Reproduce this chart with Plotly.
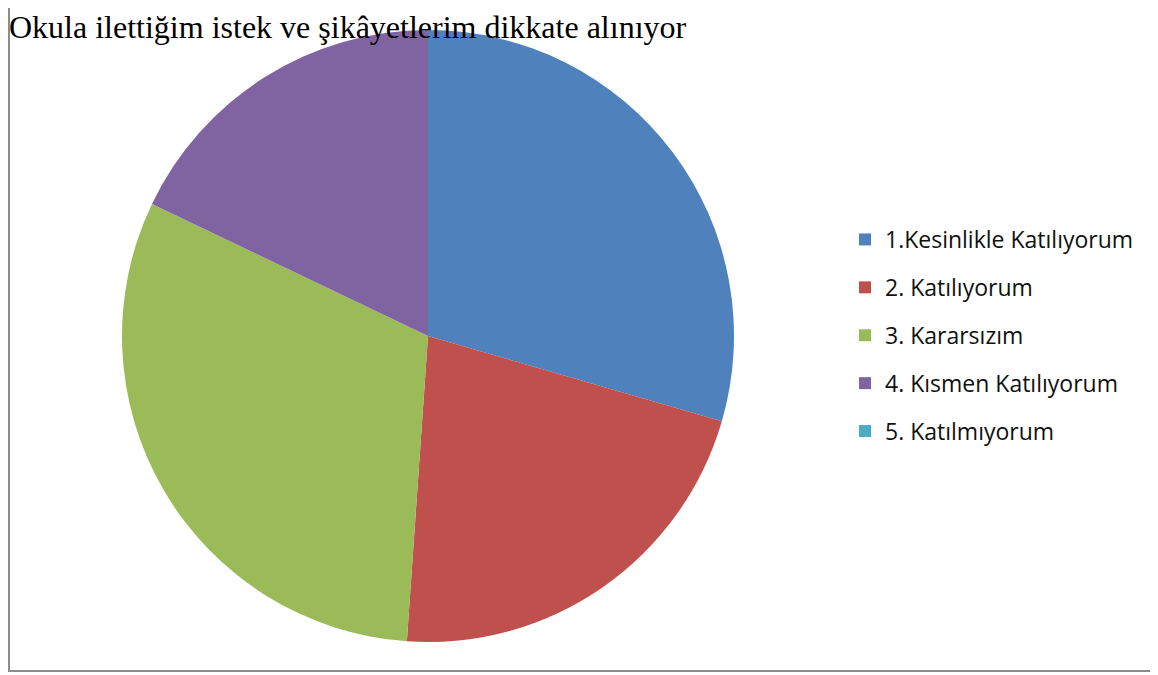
import plotly.graph_objects as go

title = "Okula ilettiğim istek ve şikâyetlerim dikkate alınıyor"
categories = ["1.Kesinlikle Katılıyorum", "2. Katılıyorum", "3. Kararsızım",
              "4. Kısmen Katılıyorum", "5. Katılmıyorum"]
values = [29.5, 21.6, 31.0, 17.9, 0.0]
colors = ["#4F81BD", "#C0504D", "#9BBB59", "#8064A2", "#4BACC6"]

W, H = 1158, 675
cx, cy, r = 420, 328, 306

fig = go.Figure()
fig.add_trace(go.Pie(
    labels=categories, values=values, sort=False, direction="clockwise",
    rotation=0, marker=dict(colors=colors, line=dict(width=0)),
    textinfo="none", hoverinfo="label+percent", showlegend=False,
    domain=dict(x=[(cx - r) / W, (cx + r) / W],
                y=[(H - cy - r) / H, (H - cy + r) / H]),
))
for i, (c, col) in enumerate(zip(categories, colors)):
    fig.add_trace(go.Scatter(
        x=[None], y=[None], mode="markers", name=c,
        marker=dict(symbol="square", size=14, color=col),
        legendgroup=f"g{i}", showlegend=True,
    ))

fig.update_layout(
    width=W, height=H, margin=dict(l=0, r=0, t=0, b=0),
    paper_bgcolor="white", plot_bgcolor="white",
    xaxis=dict(visible=False), yaxis=dict(visible=False),
    legend=dict(x=837 / W, y=(H - 210) / H, xanchor="left", yanchor="top",
                font=dict(family="Open Sans", size=23, color="#111"),
                tracegroupgap=15, itemsizing="constant",
                bgcolor="rgba(0,0,0,0)"),
    shapes=[
        dict(type="line", xref="paper", yref="paper",
             x0=1 / W, x1=1 / W, y0=(H - 663) / H, y1=1,
             line=dict(color="#8c8c8c", width=2)),
        dict(type="line", xref="paper", yref="paper",
             x0=0, x1=1, y0=(H - 663) / H, y1=(H - 663) / H,
             line=dict(color="#8c8c8c", width=2)),
    ],
    annotations=[dict(text=title, xref="paper", yref="paper",
                      x=0, y=1, xanchor="left", yanchor="top",
                      showarrow=False, borderpad=0,
                      font=dict(family="Liberation Serif", size=32, color="black"))],
)
fig.write_html("out.html")
